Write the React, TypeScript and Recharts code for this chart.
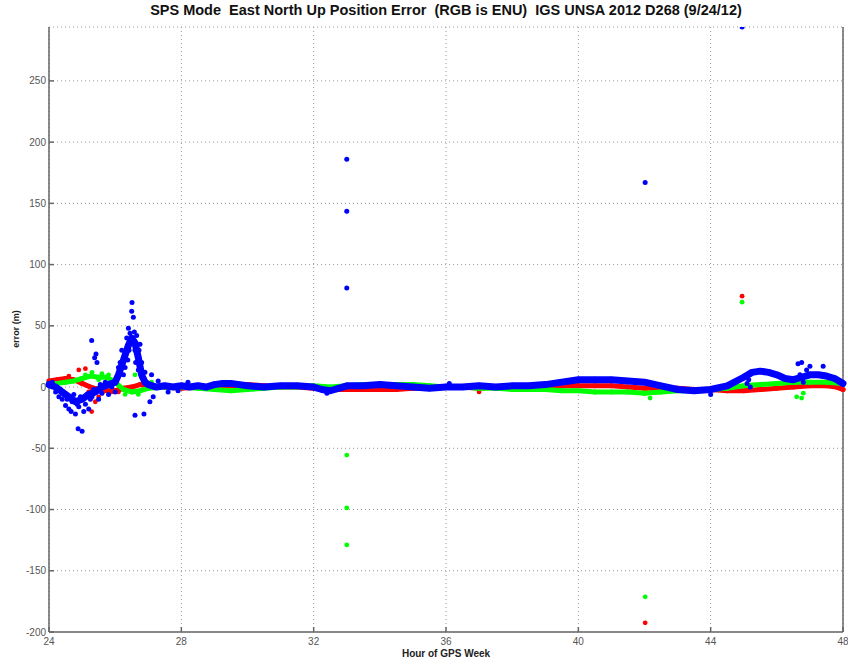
import { ScatterChart, Scatter, XAxis, YAxis, CartesianGrid } from "recharts"

type Pt = [number, number]

const hourTicks = [24, 28, 32, 36, 40, 44, 48]
const errorTicks = [-200, -150, -100, -50, 0, 50, 100, 150, 200, 250]

// East (red) – main track and loose points
const eastBand: Pt[] = [
  [24.0, 5], [24.25, 6], [24.5, 7], [24.75, 6], [25.0, 3], [25.25, 0], [25.5, -2], [25.75, -3],
  [26.0, -3], [26.25, -1], [26.5, 0], [26.75, 2], [27.0, 1], [27.5, 0], [28.0, -1], [28.5, 0],
  [29.0, 0], [29.5, 1], [30.0, 2], [30.5, 1], [31.0, 0], [31.5, 0], [32.0, -1], [32.5, -2],
  [33.0, -2], [33.5, -2], [34.0, -2], [34.5, -2], [35.0, -1], [35.5, -1], [36.0, 0], [36.5, 0],
  [37.0, -1], [37.5, 0], [38.0, 0], [38.5, 1], [39.0, 1], [39.5, 1], [40.0, 1], [40.5, 1],
  [41.0, 1], [41.5, 0], [42.0, -1], [42.5, -1], [43.0, -1], [43.5, -2], [44.0, -2], [44.5, -3],
  [45.0, -3], [45.5, -2], [46.0, -1], [46.5, 0], [47.0, 1], [47.5, 1], [47.8, 0], [48.0, -2],
]
const eastLoose: Pt[] = [
  [24.6, 9], [24.9, 14], [25.1, 15], [25.29, -20], [25.4, -12], [25.5, -8], [25.2, -4],
  [25.6, -5], [25.9, -4], [26.1, -4], [26.8, 8], [26.9, 6], [37.0, -4],
  [42.02, -192.5], [44.95, 74.2],
]

// North (green)
const northBand: Pt[] = [
  [24.0, 3], [24.25, 3], [24.5, 4], [24.75, 5], [25.0, 7], [25.25, 9], [25.5, 8], [25.75, 8],
  [26.0, 4], [26.25, -2], [26.5, -4], [26.75, -3], [27.0, -1], [27.5, 0], [28.0, 0], [28.5, -1],
  [29.0, -2], [29.5, -3], [30.0, -2], [30.5, -1], [31.0, 0], [31.5, 0], [32.0, 1], [32.5, 0],
  [33.0, 1], [33.5, 2], [34.0, 2], [34.5, 2], [35.0, 2], [35.5, 1], [36.0, 0], [36.5, 0],
  [37.0, -1], [37.5, -1], [38.0, -2], [38.5, -2], [39.0, -2], [39.5, -3], [40.0, -3], [40.5, -4],
  [41.0, -4], [41.5, -4], [42.0, -5], [42.5, -4], [43.0, -3], [43.5, -3], [44.0, -2], [44.5, -1],
  [45.0, 1], [45.5, 2], [46.0, 3], [46.5, 4], [47.0, 4], [47.5, 4], [48.0, 3],
]
const northLoose: Pt[] = [
  [25.1, 10], [25.3, 12], [25.5, 6], [25.6, 11], [25.8, 10], [26.0, 6], [26.3, -6], [26.6, 10],
  [26.7, -6], [27.1, 4], [33.0, -55.5], [33.0, -98.7], [33.0, -128.9], [42.02, -171.3],
  [42.17, -9], [44.95, 69.3], [46.6, -8], [46.75, -9], [46.8, -5],
]

// Up (blue)
const upBand: Pt[] = [
  [24.0, 2], [24.2, 0], [24.4, -4], [24.6, -8], [24.8, -12], [25.0, -10], [25.2, -6], [25.4, -4],
  [25.6, 0], [25.8, 2], [26.0, 4], [26.1, 10], [26.2, 18], [26.3, 26], [26.4, 34], [26.5, 40],
  [26.6, 36], [26.7, 24], [26.8, 10], [26.9, 4], [27.0, 2], [27.25, 0], [27.5, 1], [27.75, 0],
  [28.0, 1], [28.25, 0], [28.5, 1], [28.75, 0], [29.0, 2], [29.25, 3], [29.5, 3], [29.75, 2],
  [30.0, 1], [30.5, 0], [31.0, 1], [31.5, 1], [32.0, 0], [32.25, -2], [32.5, -3], [32.75, -1],
  [33.0, 1], [33.5, 1], [34.0, 2], [34.5, 1], [35.0, 0], [35.5, -1], [36.0, 0], [36.5, 0],
  [37.0, 1], [37.5, 0], [38.0, 1], [38.5, 1], [39.0, 2], [39.5, 4], [40.0, 6], [40.5, 6],
  [41.0, 6], [41.5, 5], [42.0, 4], [42.5, 1], [43.0, -2], [43.5, -3], [44.0, -2], [44.5, 1],
  [45.0, 8], [45.25, 12], [45.5, 13], [45.75, 12], [46.0, 10], [46.25, 7], [46.5, 6], [46.75, 8],
  [47.0, 10], [47.25, 10], [47.5, 9], [47.75, 7], [48.0, 3],
]
const upLoose: Pt[] = [
  [24.1, 4], [24.2, -4], [24.3, -8], [24.35, -2], [24.4, -10], [24.45, -6], [24.5, -15],
  [24.55, -10], [24.6, -18], [24.67, -20], [24.7, -12], [24.75, -6], [24.8, -22], [24.85, -14],
  [24.88, -34], [25.0, -36], [24.9, -16], [24.95, -8], [25.05, -20], [25.1, -14], [25.15, -6],
  [25.2, -18], [25.25, -10], [25.29, 38], [25.38, 24], [25.42, 27], [25.45, 20], [25.3, -8],
  [25.35, -2], [25.5, -10], [25.55, 2], [25.6, -5], [25.7, 4], [25.8, -6], [25.9, 0], [26.0, -4],
  [26.05, 8], [26.1, 16], [26.15, 20], [26.2, 30], [26.25, 10], [26.3, 16], [26.35, 40],
  [26.38, 22], [26.4, 48], [26.42, 30], [26.45, 44], [26.5, 62], [26.51, 69], [26.55, 57],
  [26.58, 45], [26.6, 30], [26.62, 20], [26.65, 42], [26.7, 14], [26.72, 30], [26.75, 35],
  [26.8, 20], [26.6, -23], [26.87, -22], [27.05, -12], [27.1, 10], [27.15, -8], [26.9, 12],
  [27.3, 5], [27.6, -4], [28.2, 4], [27.9, -3], [32.4, -5], [36.1, 3], [44.0, -6], [45.1, 3],
  [45.15, 6], [45.2, 0], [46.64, 19], [46.75, 20], [47.0, 17], [46.7, 10], [46.8, 4],
  [46.9, 14], [47.4, 17], [33.0, 186], [33.0, 143.6], [33.0, 80.8], [42.02, 167], [44.95, 294],
]

const toXY = (pts: Pt[]) => pts.map(([x, y]) => ({ x, y }))

const dot = (color: string, r: number) => (props: any) =>
  <circle cx={props.cx} cy={props.cy} r={r} fill={color} />

const font = "Liberation Sans, Arial, sans-serif"
const tickStyle = { fontSize: 10, fill: "#555", fontFamily: font }
const frame = { stroke: "#666", strokeWidth: 1.5 }

export default function App() {
  return (
    <div style={{ position: "absolute", left: 0, top: 0, width: 848, height: 667, background: "#fff" }}>
      <div
        style={{
          position: "absolute", left: 0, width: 892, top: 2, textAlign: "center",
          fontFamily: font, fontWeight: "bold", fontSize: 14.5, color: "#111", whiteSpace: "pre",
        }}
      >
        {"SPS Mode  East North Up Position Error  (RGB is ENU)  IGS UNSA 2012 D268 (9/24/12)"}
      </div>
      <div
        style={{
          position: "absolute", left: 396, width: 100, top: 648, textAlign: "center",
          fontFamily: font, fontWeight: "bold", fontSize: 10, color: "#222",
        }}
      >
        Hour of GPS Week
      </div>
      <div
        style={{
          position: "absolute", left: -34, top: 324, width: 100, textAlign: "center",
          transform: "rotate(-90deg)", fontFamily: font, fontWeight: "bold", fontSize: 9, color: "#222",
        }}
      >
        error (m)
      </div>
      <ScatterChart width={848} height={667} margin={{ top: 27, right: 0, left: 0, bottom: 0 }}>
        <CartesianGrid stroke="#999" strokeDasharray="1 3" />
        <XAxis
          dataKey="x" type="number" domain={[24, 48]} ticks={hourTicks} height={35}
          tickSize={-5} tickMargin={11} tick={tickStyle} axisLine={frame} tickLine={frame}
        />
        <XAxis
          xAxisId="top" orientation="top" type="number" domain={[24, 48]} ticks={hourTicks} height={0}
          tickSize={-5} tick={false} axisLine={frame} tickLine={frame}
        />
        <YAxis
          dataKey="y" type="number" domain={[-200, 294]} ticks={errorTicks} width={49}
          allowDataOverflow tickSize={-5} tickMargin={8} tick={tickStyle} axisLine={frame} tickLine={frame}
        />
        <YAxis
          yAxisId="right" orientation="right" type="number" domain={[-200, 294]} ticks={errorTicks} width={5}
          tickSize={-5} tick={false} axisLine={frame} tickLine={frame}
        />
        <Scatter
          data={toXY(eastBand)} isAnimationActive={false} lineType="joint" shape={dot("#ff0000", 2.5)}
          line={{ stroke: "#ff0000", strokeWidth: 5, strokeLinejoin: "round", strokeLinecap: "round" }}
        />
        <Scatter data={toXY(eastLoose)} isAnimationActive={false} shape={dot("#ff0000", 2.4)} />
        <Scatter
          data={toXY(northBand)} isAnimationActive={false} lineType="joint" shape={dot("#00ff00", 2.5)}
          line={{ stroke: "#00ff00", strokeWidth: 5, strokeLinejoin: "round", strokeLinecap: "round" }}
        />
        <Scatter data={toXY(northLoose)} isAnimationActive={false} shape={dot("#00ff00", 2.4)} />
        <Scatter
          data={toXY(upBand)} isAnimationActive={false} lineType="joint" shape={dot("#0000ff", 3)}
          line={{ stroke: "#0000ff", strokeWidth: 7, strokeLinejoin: "round", strokeLinecap: "round" }}
        />
        <Scatter data={toXY(upLoose)} isAnimationActive={false} shape={dot("#0000ff", 2.5)} />
      </ScatterChart>
    </div>
  )
}
